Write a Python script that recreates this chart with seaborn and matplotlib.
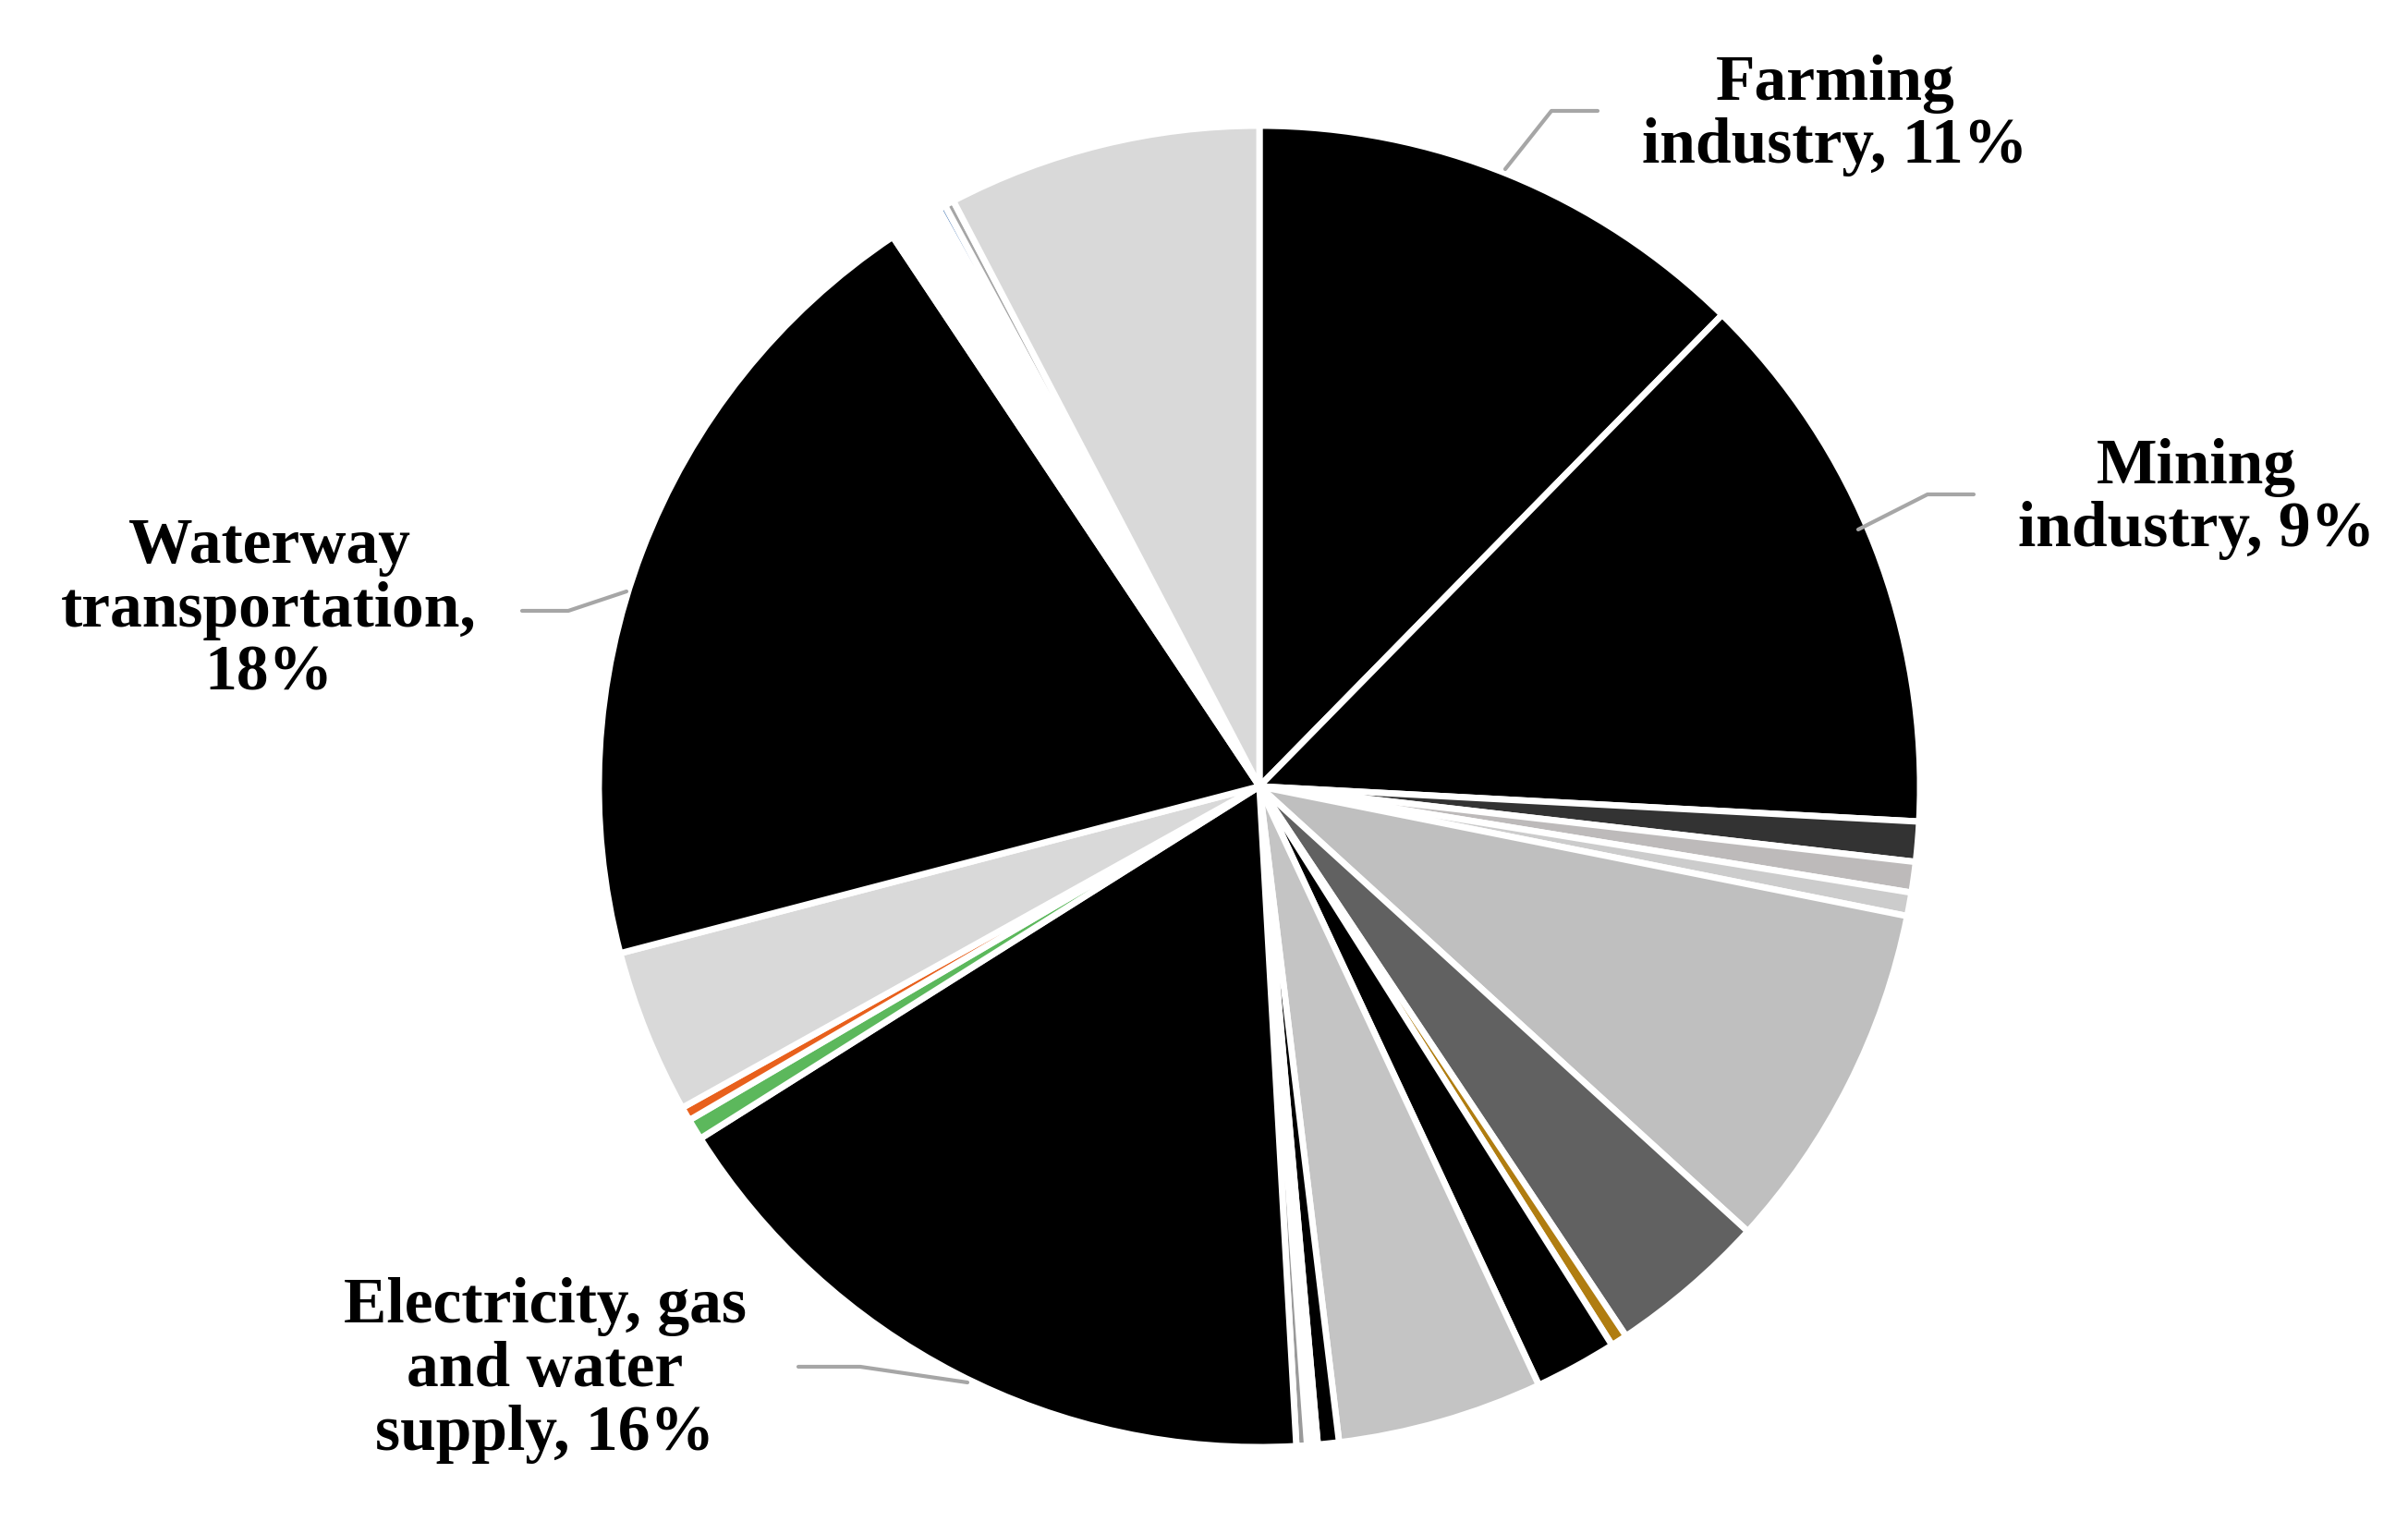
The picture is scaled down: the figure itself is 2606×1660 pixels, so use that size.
import matplotlib
matplotlib.use("Agg")
import matplotlib.pyplot as plt
import seaborn as sns

sns.set_theme(style="white")
plt.rcParams['font.family'] = ['Liberation Serif', 'DejaVu Serif']

# slice sizes (degrees), clockwise from top
sectors = ["Farming industry", "Mining industry", "s1", "s2", "s3", "s4", "s5", "s6", "s7",
           "s8", "s9", "s10", "s11", "Electricity, gas and water supply", "s12", "s13",
           "s14", "Waterway transportation", "s15", "s16", "s17", "s18"]
values = [43, 47, 3.4, 2.6, 2.0, 30, 13.5, 1.4, 7, 17.5, 1.8, 0.9, 0.9, 59,
          1.8, 1.2, 14, 68.6, 4.5, 0.6, 0.8, 26.7]
colors = ["#000000", "#000000", "#333333", "#bdbaba", "#cccccc", "#bfbfbf", "#616161",
          "#b07d10", "#000000", "#c4c4c4", "#000000", "#ffffff", "#9a9a9a", "#000000",
          "#5cb85c", "#e8601c", "#d9d9d9", "#000000", "#ffffff", "#4a7ab5", "#a6a6a6",
          "#d9d9d9"]
labels = {"Farming industry": ("Farming\nindustry, 11%", (1986, 125),
                               [(1629, 183), (1679, 120), (1729, 120)]),
          "Mining industry": ("Mining\nindustry, 9%", (2377, 540),
                              [(2011, 573), (2086, 535), (2136, 535)]),
          "Waterway transportation": ("Waterway\ntransportation,\n18%", (291, 661),
                                      [(678, 640), (615, 661), (565, 661)]),
          "Electricity, gas and water supply": ("Electricity, gas\nand water\nsupply, 16%", (590, 1483),
                                                [(1047, 1496), (931, 1479), (864, 1479)])}

W, H = 2606, 1660
fig = plt.figure(figsize=(W / 100, H / 100), dpi=100)
fig.patch.set_facecolor("white")
ax = fig.add_axes([(1363 - 715) / W, (H - 851 - 715) / H, 1430 / W, 1430 / H])
ax.pie(values, colors=colors, startangle=90, counterclock=False,
       wedgeprops=dict(edgecolor="white", linewidth=5))
ax.set_aspect("equal")
ax.set_xlim(-1.0, 1.0)
ax.set_ylim(-1.0, 1.0)
ax.axis("off")

ov = fig.add_axes([0, 0, 1, 1], facecolor="none")
ov.set_xlim(0, W)
ov.set_ylim(H, 0)
ov.axis("off")
for key, (txt, pos, line) in labels.items():
    xs, ys = zip(*line)
    ov.plot(xs, ys, color="#a6a6a6", lw=3)
    ov.text(pos[0], pos[1], txt, ha="center", va="center", fontsize=50,
            fontweight="bold", linespacing=1.1, color="black")

fig.savefig("out.png", dpi=100)
